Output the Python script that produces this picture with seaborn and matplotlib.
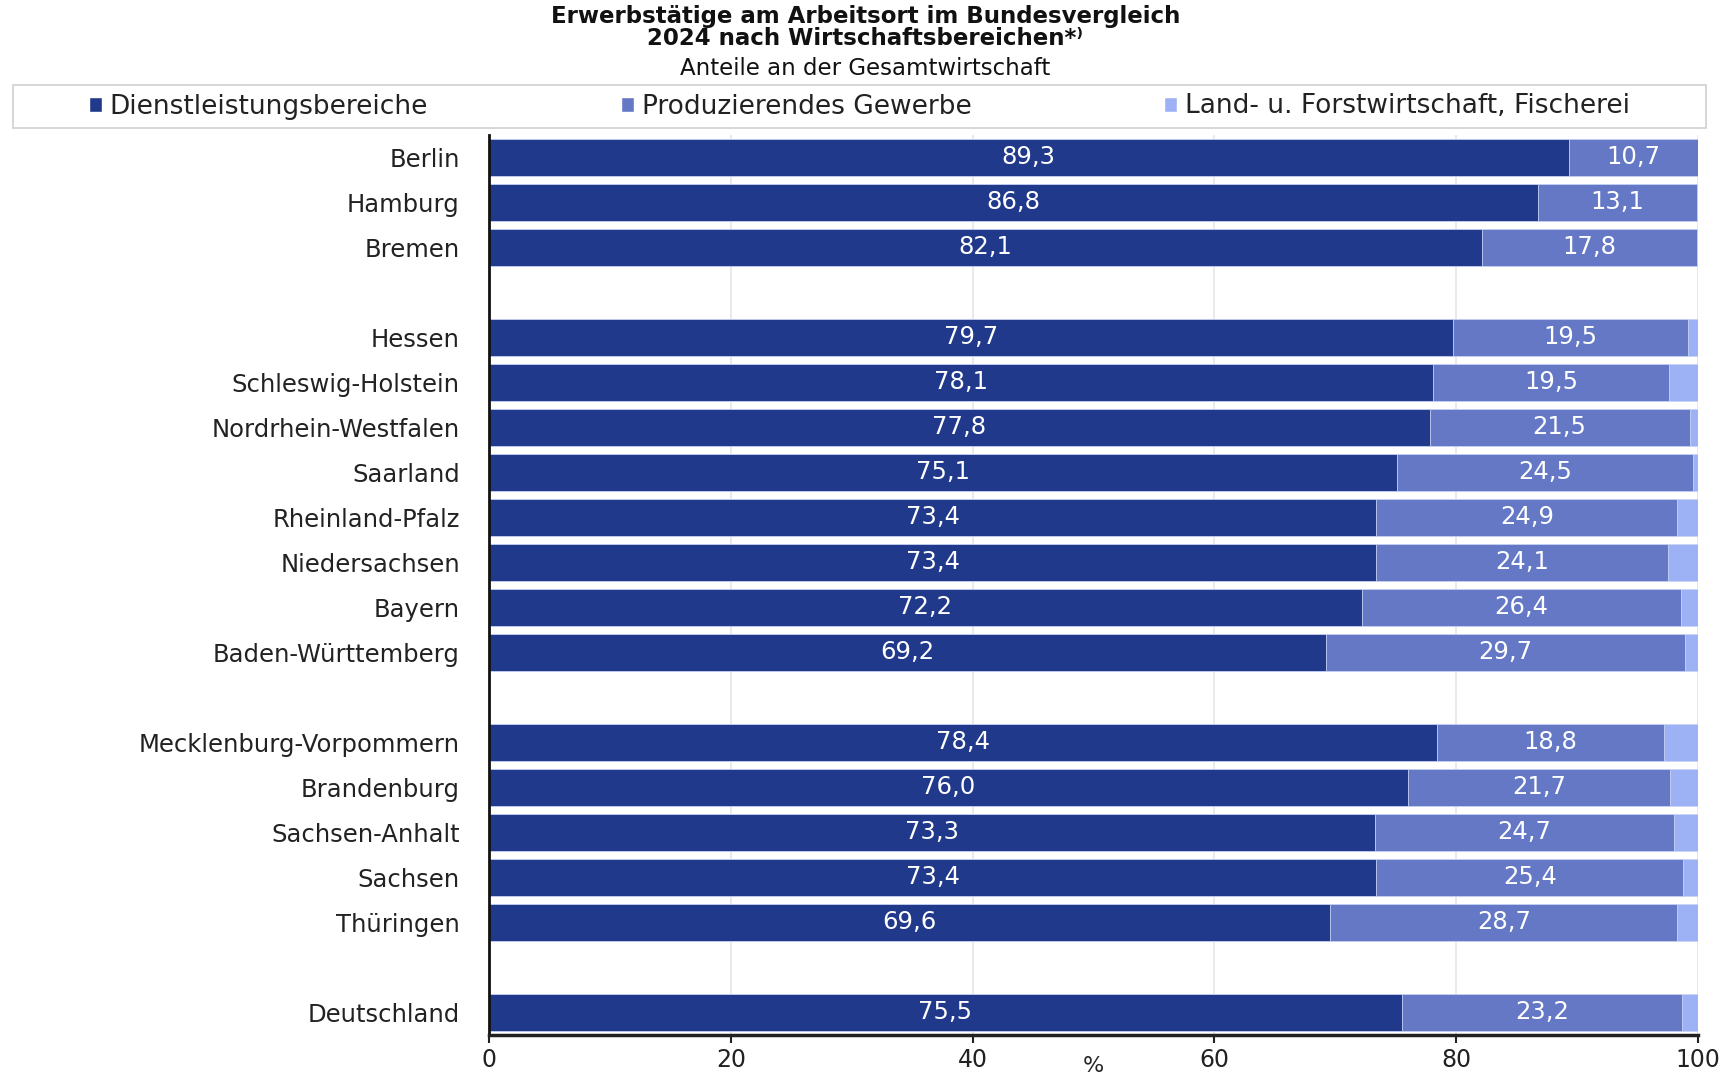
import numpy as np
import pandas as pd
import matplotlib
matplotlib.use("Agg")
import matplotlib.pyplot as plt
import seaborn as sns
from matplotlib.patches import Patch, Rectangle

states = ["Berlin", "Hamburg", "Bremen",
          "Hessen", "Schleswig-Holstein", "Nordrhein-Westfalen", "Saarland",
          "Rheinland-Pfalz", "Niedersachsen", "Bayern", "Baden-Württemberg",
          "Mecklenburg-Vorpommern", "Brandenburg", "Sachsen-Anhalt", "Sachsen",
          "Thüringen", "Deutschland"]
dienst = [89.3, 86.8, 82.1, 79.7, 78.1, 77.8, 75.1, 73.4, 73.4, 72.2, 69.2,
          78.4, 76.0, 73.3, 73.4, 69.6, 75.5]
produz = [10.7, 13.1, 17.8, 19.5, 19.5, 21.5, 24.5, 24.9, 24.1, 26.4, 29.7,
          18.8, 21.7, 24.7, 25.4, 28.7, 23.2]
landw = [0.0, 0.1, 0.1, 0.8, 2.4, 0.7, 0.4, 1.7, 2.5, 1.4, 1.1,
         2.8, 2.3, 2.0, 1.2, 1.7, 1.3]

series = ["Dienstleistungsbereiche", "Produzierendes Gewerbe",
          "Land- u. Forstwirtschaft, Fischerei"]
colors = ["#21398b", "#6478c6", "#9db2f4"]

# row order with empty slots between the groups
order = states[:3] + [" "] + states[3:11] + ["  "] + states[11:16] + ["   "] + states[16:]

df = pd.DataFrame({"Land": states, "d": dienst, "p": produz, "l": landw})
df["dp"] = df["d"] + df["p"]
df["dpl"] = df["dp"] + df["l"]

sns.set_style("white")
plt.rcParams["font.family"] = ["DejaVu Sans"]

fig = plt.figure(figsize=(17.31, 10.8), dpi=100)
ax = fig.add_axes([489 / 1731, 1 - 1035 / 1080, (1698 - 489) / 1731, (1035 - 135) / 1080])

for col, c in zip(["dpl", "dp", "d"], colors[::-1]):
    sns.barplot(data=df, x=col, y="Land", order=order, color=c, orient="h",
                width=0.84, ax=ax, saturation=1, edgecolor="#c9d4f7", linewidth=0.6)

pos = {name: i for i, name in enumerate(order)}
for _, r in df.iterrows():
    y = pos[r["Land"]]
    ax.text(r["d"] / 2, y, f"{r['d']:.1f}".replace(".", ","), ha="center", va="center",
            color="white", fontsize=17.5)
    ax.text(r["d"] + r["p"] / 2, y, f"{r['p']:.1f}".replace(".", ","), ha="center",
            va="center", color="white", fontsize=17.5)

ax.set_xlim(0, 100)
ax.set_ylim(len(order) - 0.5, -0.5)
ax.set_xticks([0, 20, 40, 60, 80, 100])
ax.xaxis.grid(True, color="#e6e6e6", linewidth=1.2)
ax.set_axisbelow(True)
ax.tick_params(axis="x", labelsize=17, length=6, width=1.5, direction="out",
               colors="#222222", bottom=True)
ax.tick_params(axis="y", labelsize=17.5, length=0, colors="#222222", pad=21)
ax.set_ylabel("")
ax.set_xlabel("%", fontsize=16, labelpad=-12)
for s in ["top", "right"]:
    ax.spines[s].set_visible(False)
ax.spines["left"].set_color("#111111")
ax.spines["left"].set_linewidth(2)
ax.spines["bottom"].set_color("#222222")
ax.spines["bottom"].set_linewidth(2.5)

fig.text(0.5, 1 - 5 / 1080,
         "Erwerbstätige am Arbeitsort im Bundesvergleich\n2024 nach Wirtschaftsbereichen*⁾",
         ha="center", va="top", fontsize=16.5, fontweight="bold", color="#111111",
         linespacing=0.95)
fig.text(0.5, 1 - 57 / 1080, "Anteile an der Gesamtwirtschaft",
         ha="center", va="top", fontsize=16.5, color="#111111")

# legend box across the full width
fig.add_artist(Rectangle((13 / 1731, 1 - 128 / 1080), 1693 / 1731, 43 / 1080,
                         transform=fig.transFigure, facecolor="none",
                         edgecolor="#d0d0d0", linewidth=1.2))
handles = [Patch(facecolor=c, label=s) for c, s in zip(colors, series)]
leg = fig.legend(handles=handles, loc="center", ncol=3,
                 bbox_to_anchor=(13 / 1731, 1 - 128 / 1080, 1693 / 1731, 43 / 1080),
                 frameon=False, fontsize=19, handlelength=0.5,
                 handleheight=0.5, handletextpad=0.3, columnspacing=7.3,
                 borderaxespad=0, borderpad=0)
for t in leg.get_texts():
    t.set_color("#222222")

fig.savefig("out.png", dpi=100)
